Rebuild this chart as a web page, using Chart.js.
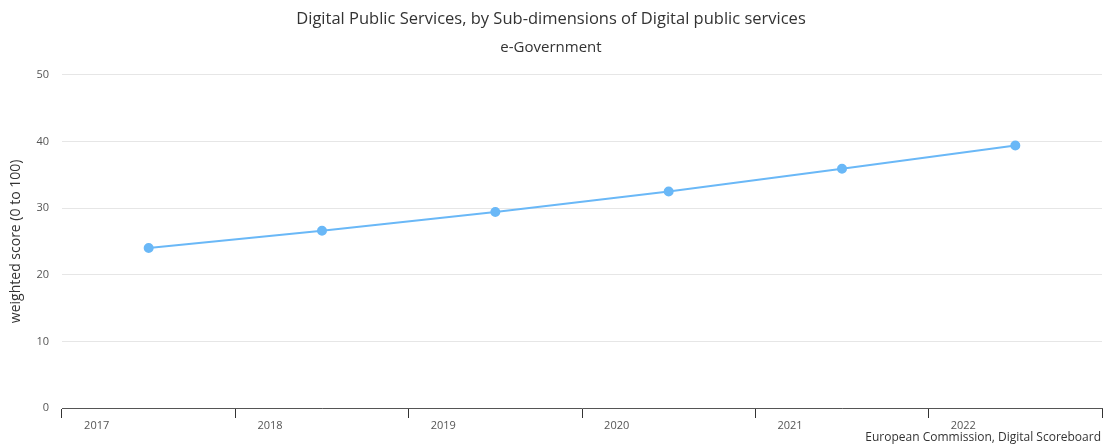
<!DOCTYPE html>
<html>
<head>
<meta charset="utf-8">
<script src="https://cdn.jsdelivr.net/npm/chart.js@4"></script>
<style>
    html, body { margin: 0; padding: 0; background: #fff; }
    #wrap { width: 1110px; height: 445px; }
</style>
</head>
<body>
<div id="wrap"><canvas id="myChart"></canvas></div>
<script>
const years = ['2017', '2018', '2019', '2020', '2021', '2022'];
const eGovernment = [24.0, 26.6, 29.4, 32.5, 35.9, 39.4];
const yTicks = [0, 10, 20, 30, 40, 50];

const font = 'Open Sans';

// credits text in the bottom right corner
const creditsPlugin = {
    id: 'credits',
    afterDraw(chart) {
        const c = chart.ctx;
        c.save();
        c.font = '12px "' + font + '"';
        c.fillStyle = '#333';
        c.textAlign = 'right';
        c.textBaseline = 'middle';
        c.fillText('European Commission, Digital Scoreboard', 1101, 438);
        c.restore();
    }
};

new Chart(document.getElementById('myChart'), {
    type: 'line',
    data: {
        labels: years,
        datasets: [{
            label: 'e-Government',
            data: eGovernment,
            borderColor: '#6ab8f7',
            backgroundColor: '#6ab8f7',
            borderWidth: 2,
            pointRadius: 4,
            pointHoverRadius: 5,
            tension: 0
        }]
    },
    options: {
        responsive: true,
        maintainAspectRatio: false,
        animation: false,
        layout: {
            padding: {left: 0, right: 8, top: 0, bottom: 0}
        },
        plugins: {
            legend: {display: false},
            tooltip: {enabled: false},
            title: {
                display: true,
                text: 'Digital Public Services, by Sub-dimensions of Digital public services',
                color: '#333',
                font: {family: font, size: 16.5, weight: 'normal'},
                padding: {top: 9, bottom: 6}
            },
            subtitle: {
                display: true,
                text: 'e-Government',
                color: '#333',
                font: {family: font, size: 15, weight: 'normal'},
                padding: {top: 4, bottom: 18}
            }
        },
        scales: {
            x: {
                offset: true,
                grid: {
                    offset: true,
                    drawOnChartArea: false,
                    tickLength: 10,
                    color: '#333'
                },
                border: {display: true, color: '#555', width: 1},
                ticks: {
                    color: '#555',
                    font: {family: font, size: 11},
                    labelOffset: -52,
                    padding: 1,
                    maxRotation: 0
                },
                afterFit(scale) {
                    scale.height = 37;
                }
            },
            y: {
                min: 0,
                max: 50,
                afterBuildTicks(scale) {
                    scale.ticks = yTicks.map(v => ({value: v}));
                },
                grid: {
                    color: '#e6e6e6',
                    drawTicks: false
                },
                border: {display: false},
                ticks: {
                    color: '#555',
                    font: {family: font, size: 11},
                    padding: 13
                },
                title: {
                    display: true,
                    text: 'weighted score (0 to 100)',
                    color: '#333',
                    font: {family: font, size: 14},
                    padding: {top: 8, bottom: 0}
                },
                afterFit(scale) {
                    scale.width = 62;
                }
            }
        }
    },
    plugins: [creditsPlugin]
});
</script>
</body>
</html>
